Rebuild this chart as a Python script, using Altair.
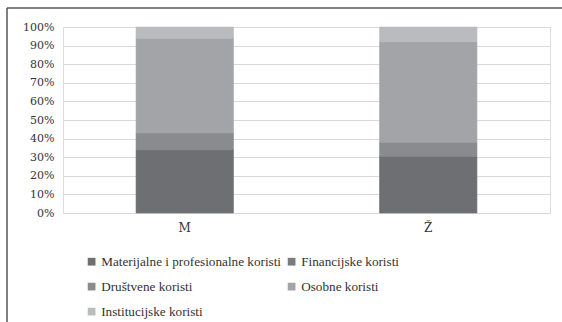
import altair as alt
import pandas as pd

genders = ["M", "Ž"]
categories = [
    "Materijalne i profesionalne koristi",
    "Financijske koristi",
    "Društvene koristi",
    "Osobne koristi",
    "Institucijske koristi",
]
values_m = [34, 0, 9, 51, 6]
values_z = [30.5, 0, 7.5, 54, 8]
colors = ["#6e6f72", "#7a7b7e", "#8a8b8e", "#a3a4a7", "#babbbe"]

rows = []
for g, vals in zip(genders, [values_m, values_z]):
    for i, (c, v) in enumerate(zip(categories, vals)):
        rows.append({"spol": g, "kategorija": c, "vrijednost": v, "red": i})
df = pd.DataFrame(rows)

AXIS_FONT = "DejaVu Serif"
LEG_FONT = "Liberation Serif"

bars = alt.Chart(df).mark_bar(strokeWidth=0.6).encode(
    x=alt.X("spol:N", sort=genders, title=None,
            scale=alt.Scale(paddingInner=0.6, paddingOuter=0.3),
            axis=alt.Axis(labelAngle=0, domain=False, ticks=False, labelPadding=9,
                          labelFont=AXIS_FONT, labelFontSize=12, labelColor="#333333")),
    y=alt.Y("vrijednost:Q", stack="normalize", title=None,
            scale=alt.Scale(domain=[0, 1]),
            axis=alt.Axis(format=".0%", values=[i / 10 for i in range(11)],
                          domain=False, ticks=False, labelPadding=9,
                          grid=True, gridColor="#d9d9d9", gridWidth=1,
                          labelFont=AXIS_FONT, labelFontSize=11, labelColor="#333333")),
    color=alt.Color("kategorija:N", sort=categories,
                    scale=alt.Scale(domain=categories, range=colors),
                    legend=alt.Legend(title=None, orient="none", legendX=22, legendY=228,
                                      columns=2, direction="horizontal",
                                      symbolType="square", symbolSize=60,
                                      symbolStrokeWidth=0, rowPadding=11, columnPadding=3,
                                      labelFont=LEG_FONT, labelFontSize=13.2, labelColor="#333333",
                                      labelOffset=3, labelLimit=400)),
    stroke=alt.Stroke("kategorija:N", sort=categories,
                      scale=alt.Scale(domain=categories, range=colors), legend=None),
    order=alt.Order("red:Q"),
)

frame_df = pd.DataFrame({"a": [0]})
top_line = alt.Chart(frame_df).mark_rule(color="#555555", strokeWidth=1.5, clip=False).encode(
    x=alt.value(-56), x2=alt.value(510), y=alt.value(-19)
)
left_line = alt.Chart(frame_df).mark_rule(color="#555555", strokeWidth=1.5, clip=False).encode(
    x=alt.value(-56), y=alt.value(-19), y2=alt.value(300)
)

chart = alt.layer(bars, top_line, left_line).properties(
    width=487, height=186,
    autosize=alt.AutoSizeParams(type="none"),
    padding={"left": 63, "top": 27, "right": 12, "bottom": 109},
).configure_view(stroke=None).configure(background="white")

chart.save("out.html", embed_options={"renderer": "svg", "actions": False})
